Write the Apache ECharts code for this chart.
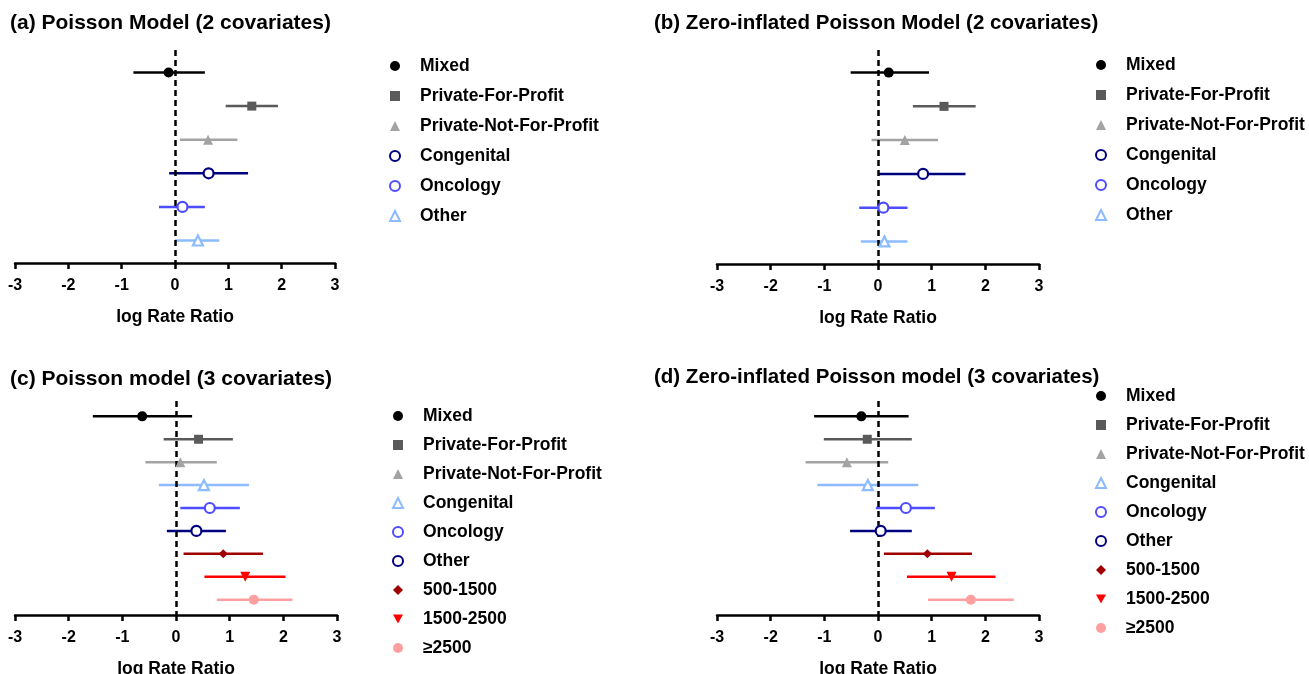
<!DOCTYPE html>
<html>
<head>
<meta charset="utf-8">
<script src="https://cdn.jsdelivr.net/npm/echarts@6/dist/echarts.min.js"></script>
<style>
  html, body { margin: 0; background: #fff; }
  #chart { width: 1309px; height: 674px; }
</style>
</head>
<body>
<div id="chart"></div>
<script>
// categories
const rowsAB = ['Mixed', 'Private-For-Profit', 'Private-Not-For-Profit', 'Congenital', 'Oncology', 'Other']
const rowsCD = ['Mixed', 'Private-For-Profit', 'Private-Not-For-Profit', 'Congenital', 'Oncology', 'Other',
  '500-1500', '1500-2500', '≥2500']
const xTicks = [-3, -2, -1, 0, 1, 2, 3]

// (a) Poisson, 2 covariates
const estA = [-0.12, 1.44, 0.62, 0.63, 0.14, 0.43]
const loA = [-0.78, 0.95, 0.09, -0.11, -0.30, 0.00]
const hiA = [0.56, 1.93, 1.17, 1.37, 0.56, 0.83]
// (b) ZIP, 2 covariates
const estB = [0.20, 1.23, 0.50, 0.84, 0.10, 0.12]
const loB = [-0.51, 0.65, -0.12, 0.02, -0.35, -0.32]
const hiB = [0.95, 1.82, 1.12, 1.63, 0.55, 0.55]
// (c) Poisson, 3 covariates
const estC = [-0.63, 0.42, 0.08, 0.52, 0.63, 0.38, 0.88, 1.29, 1.45]
const loC = [-1.55, -0.23, -0.57, -0.32, 0.08, -0.17, 0.14, 0.53, 0.76]
const hiC = [0.30, 1.06, 0.76, 1.36, 1.19, 0.93, 1.62, 2.04, 2.17]
// (d) ZIP, 3 covariates
const estD = [-0.31, -0.20, -0.58, -0.19, 0.52, 0.05, 0.92, 1.37, 1.73]
const loD = [-1.19, -1.01, -1.35, -1.13, -0.04, -0.52, 0.11, 0.54, 0.93]
const hiD = [0.57, 0.63, 0.19, 0.75, 1.06, 0.63, 1.75, 2.19, 2.53]

// marker looks
const marks = {
  mixed: { color: '#000000', symbol: 'circle', size: 10 },
  pfp: { color: '#5a5a5a', symbol: 'rect', size: 9 },
  pnfp: { color: '#a3a3a3', symbol: 'triangle', size: 10 },
  navyO: { color: '#00007f', symbol: 'circle', size: 10, hollow: true },
  blueO: { color: '#4d4dff', symbol: 'circle', size: 10, hollow: true },
  lightT: { color: '#8cbcff', symbol: 'triangle', size: 10, hollow: true },
  diamond: { color: '#a00000', symbol: 'diamond', size: 9 },
  down: { color: '#ff0000', symbol: 'path://M0,0 L10,0 L5,9 Z', size: 10 },
  pink: { color: '#ffa0a0', symbol: 'circle', size: 10 }
}
const styleAB = ['mixed', 'pfp', 'pnfp', 'navyO', 'blueO', 'lightT']
const styleCD = ['mixed', 'pfp', 'pnfp', 'lightT', 'blueO', 'navyO', 'diamond', 'down', 'pink']

const panels = [
  { key: 'a', title: '(a) Poisson Model (2 covariates)', rows: rowsAB, est: estA, lo: loA, hi: hiA, styles: styleAB,
    grid: { left: 15, top: 50, width: 320, height: 213 }, titlePos: { left: 10, top: 13 }, titleSize: 21,
    legendPos: { left: 389, top: 56 }, legendGap: 10 },
  { key: 'b', title: '(b) Zero-inflated Poisson Model (2 covariates)', rows: rowsAB, est: estB, lo: loB, hi: hiB, styles: styleAB,
    grid: { left: 717, top: 50, width: 322, height: 214 }, titlePos: { left: 654, top: 13 }, titleSize: 20.5,
    legendPos: { left: 1095, top: 55 }, legendGap: 10 },
  { key: 'c', title: '(c) Poisson model (3 covariates)', rows: rowsCD, est: estC, lo: loC, hi: hiC, styles: styleCD,
    grid: { left: 15, top: 401, width: 322, height: 214 }, titlePos: { left: 10, top: 369 }, titleSize: 21,
    legendPos: { left: 392, top: 406 }, legendGap: 9 },
  { key: 'd', title: '(d) Zero-inflated Poisson model (3 covariates)', rows: rowsCD, est: estD, lo: loD, hi: hiD, styles: styleCD,
    grid: { left: 717, top: 401, width: 322, height: 214 }, titlePos: { left: 654, top: 367 }, titleSize: 20.5,
    legendPos: { left: 1095, top: 386 }, legendGap: 9 }
]

const font = 'Liberation Sans, Arial, sans-serif'
let titles = [], grids = [], xAxes = [], yAxes = [], legends = [], series = []

panels.forEach((p, gi) => {
  titles.push({
    text: p.title, left: p.titlePos.left, top: p.titlePos.top, padding: 0,
    textStyle: { fontFamily: font, fontSize: p.titleSize, fontWeight: 'bold', color: '#000' }
  })
  grids.push(Object.assign({ outerBoundsMode: 'none', containLabel: false }, p.grid))
  xAxes.push({
    type: 'value', gridIndex: gi, min: -3, max: 3, interval: 1,
    name: 'log Rate Ratio', nameLocation: 'middle', nameGap: 45,
    nameTextStyle: { fontFamily: font, fontSize: 17.5, fontWeight: 'bold', color: '#000' },
    axisLine: { show: true, onZero: false, lineStyle: { color: '#000', width: 2.5 } },
    axisTick: { show: true, length: 6, lineStyle: { color: '#000', width: 2.5 } },
    axisLabel: { fontFamily: font, fontSize: 16, fontWeight: 'bold', color: '#000', margin: 15 },
    splitLine: { show: false }
  })
  yAxes.push({
    type: 'value', gridIndex: gi, inverse: true, show: false,
    min: 0.33, max: p.rows.length + 0.67
  })

  let names = []
  p.rows.forEach((row, i) => {
    const m = marks[p.styles[i]]
    const y = i + 1
    const line = {
      type: 'line', xAxisIndex: gi, yAxisIndex: gi, silent: true,
      data: [[p.lo[i], y], [p.hi[i], y]],
      symbol: 'none', lineStyle: { color: m.color, width: 2.5 }, z: 2
    }
    if (i === 0) {
      line.markLine = {
        silent: true, symbol: ['none', 'none'], label: { show: false },
        lineStyle: { color: '#000', width: 2.5, type: [6, 4] },
        data: [{ xAxis: 0 }]
      }
    }
    series.push(line)
    const nm = p.key + ':' + row
    names.push(nm)
    series.push({
      type: 'scatter', name: nm, xAxisIndex: gi, yAxisIndex: gi, silent: true,
      data: [[p.est[i], y]],
      symbol: m.symbol, symbolSize: m.size,
      itemStyle: m.hollow
        ? { color: '#fff', borderColor: m.color, borderWidth: 2.2, opacity: 1 }
        : { color: m.color, opacity: 1 },
      z: 5
    })
  })

  legends.push({
    data: names, orient: 'vertical', left: p.legendPos.left, top: p.legendPos.top,
    itemWidth: 10, itemHeight: 10, itemGap: p.legendGap, padding: 0,
    selectedMode: false,
    formatter: n => n.slice(2),
    textStyle: { fontFamily: font, fontSize: 17.5, fontWeight: 'bold', color: '#000', lineHeight: 20, padding: [0, 0, 0, 15] }
  })
})

const chart = echarts.init(document.getElementById('chart'))
chart.setOption({
  animation: false,
  backgroundColor: '#fff',
  title: titles,
  grid: grids,
  xAxis: xAxes,
  yAxis: yAxes,
  legend: legends,
  series: series
})
</script>
</body>
</html>
